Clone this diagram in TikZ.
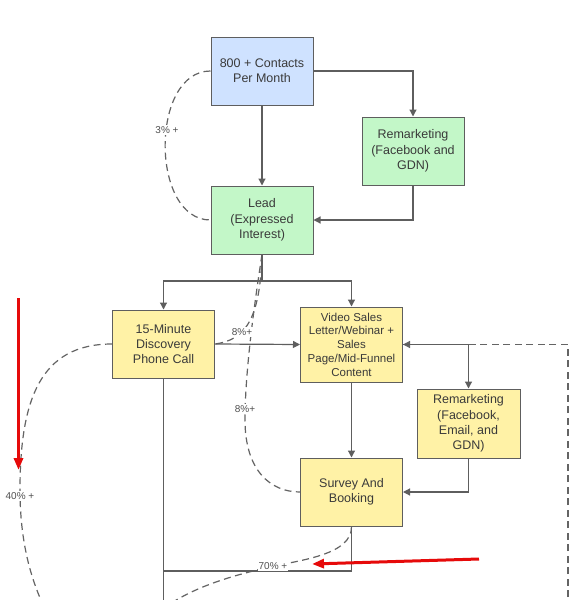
\documentclass[tikz,border=0pt]{standalone}
\usepackage{fontspec}
\setmainfont{Liberation Sans}
\usetikzlibrary{arrows.meta}
\definecolor{boxblue}{RGB}{207,226,255}
\definecolor{boxgreen}{RGB}{195,247,200}
\definecolor{boxyellow}{RGB}{255,242,166}
\definecolor{edgegray}{RGB}{94,94,94}
\definecolor{dashgray}{RGB}{100,100,100}
\definecolor{txtgray}{RGB}{58,58,58}
\definecolor{lblgray}{RGB}{80,80,80}
\definecolor{arrred}{RGB}{230,10,10}
\tikzset{
  box/.style={draw=edgegray, line width=1pt, minimum width=102pt, minimum height=68pt,
    inner sep=0pt, align=center, text=txtgray, font=\fontsize{12.5}{15.3}\selectfont},
  bluebox/.style={box, fill=boxblue},
  greenbox/.style={box, fill=boxgreen},
  yellowbox/.style={box, fill=boxyellow},
  conn/.style={draw=edgegray, line width=1.2pt},
  arr/.style={conn, -{Triangle[length=7pt, width=7pt]}},
  dconn/.style={draw=dashgray, line width=1.2pt, dash pattern=on 7pt off 4.5pt},
  lbl/.style={fill=white, inner sep=1pt, text=lblgray, font=\fontsize{10}{12}\selectfont},
  redarr/.style={draw=arrred, line width=3pt, -{Triangle[length=12pt, width=9pt]}}
}
\begin{document}
\begin{tikzpicture}[x=1pt, y=-1pt]
\useasboundingbox (0,0) rectangle (570,600);
\clip (0,0) rectangle (570,600);
\fill[white] (0,0) rectangle (570,600);

% nodes
\node[bluebox] (contacts) at (262,71) {800 + Contacts\\Per Month};
\node[greenbox] (rem1) at (413,151) {Remarketing\\(Facebook and\\GDN)};
\node[greenbox] (lead) at (262,220) {Lead\\(Expressed\\Interest)};
\node[yellowbox] (phone) at (163.5,344) {15-Minute\\Discovery\\Phone Call};
\node[yellowbox, minimum height=75pt, font=\fontsize{11.5}{13.8}\selectfont] (video) at (351.5,344.5)
  {Video Sales\\Letter/Webinar +\\Sales\\Page/Mid-Funnel\\Content};
\node[yellowbox, minimum width=103pt, minimum height=69pt] (rem2) at (468.5,423.5)
  {Remarketing\\(Facebook,\\Email, and\\GDN)};
\node[yellowbox] (survey) at (351.5,492) {Survey And\\Booking};

% helper coordinates
\coordinate (j) at (262,281);
\coordinate (k) at (163.5,571);
\coordinate (pb) at (163.5,620);
\coordinate (rb) at (568,620);
\coordinate (d40) at (48,615);
\coordinate (d70) at (150,620);

% dashed connectors (under solid)
\path[dconn] (contacts.west) .. controls (150,71) and (150,220) .. (lead.west);
\path[dconn] (lead.south) .. controls (260,320) and (245,340) .. (phone.east);
\path[dconn] (lead.south) .. controls (255,300) and (245,370) .. (245,420)
   .. controls (245,470) and (270,492) .. (survey.west);
\path[dconn] (phone.west) .. controls (40,344) and (20,400) .. (20,490)
   .. controls (20,540) and (30,580) .. (d40);
\path[dconn] (survey.south) .. controls (352,555) and (300,560) .. (270,567)
   .. controls (230,576) and (180,590) .. (d70);
\path[dconn, -{Triangle[length=7pt, width=7pt]}] (rb) |- (video.east);

% solid connectors
\path[arr] (contacts.south) -- (lead.north);
\path[arr] (contacts.east) -| (rem1.north);
\path[arr] (rem1.south) |- (lead.east);
\path[conn] (lead.south) -- (j);
\path[arr] (j) -| (phone.north);
\path[arr] (j) -| (video.north);
\path[arr] (phone.east) -- (video.west);
\path[arr] (video.south) -- (survey.north);
\path[arr] (video.east) -| (rem2.north);
\path[arr] (rem2.south) |- (survey.east);
\path[conn] (survey.south) |- (k);
\path[conn] (phone.south) -- (pb);

% labels
\node[lbl] (l3) at (167,130) {3\% +};
\node[lbl] (l8a) at (242,332) {8\%+};
\node[lbl] (l8b) at (245,409) {8\%+};
\node[lbl] (l40) at (20,496) {40\% +};
\node[lbl] (l70) at (273,566) {70\% +};

% red annotation arrows
\coordinate (ra1) at (18.5,298);
\coordinate (ra2) at (18.5,470);
\coordinate (rb1) at (479,559);
\coordinate (rb2) at (312,564);
\path[redarr] (ra1) -- (ra2);
\path[redarr] (rb1) -- (rb2);
\end{tikzpicture}
\end{document}
